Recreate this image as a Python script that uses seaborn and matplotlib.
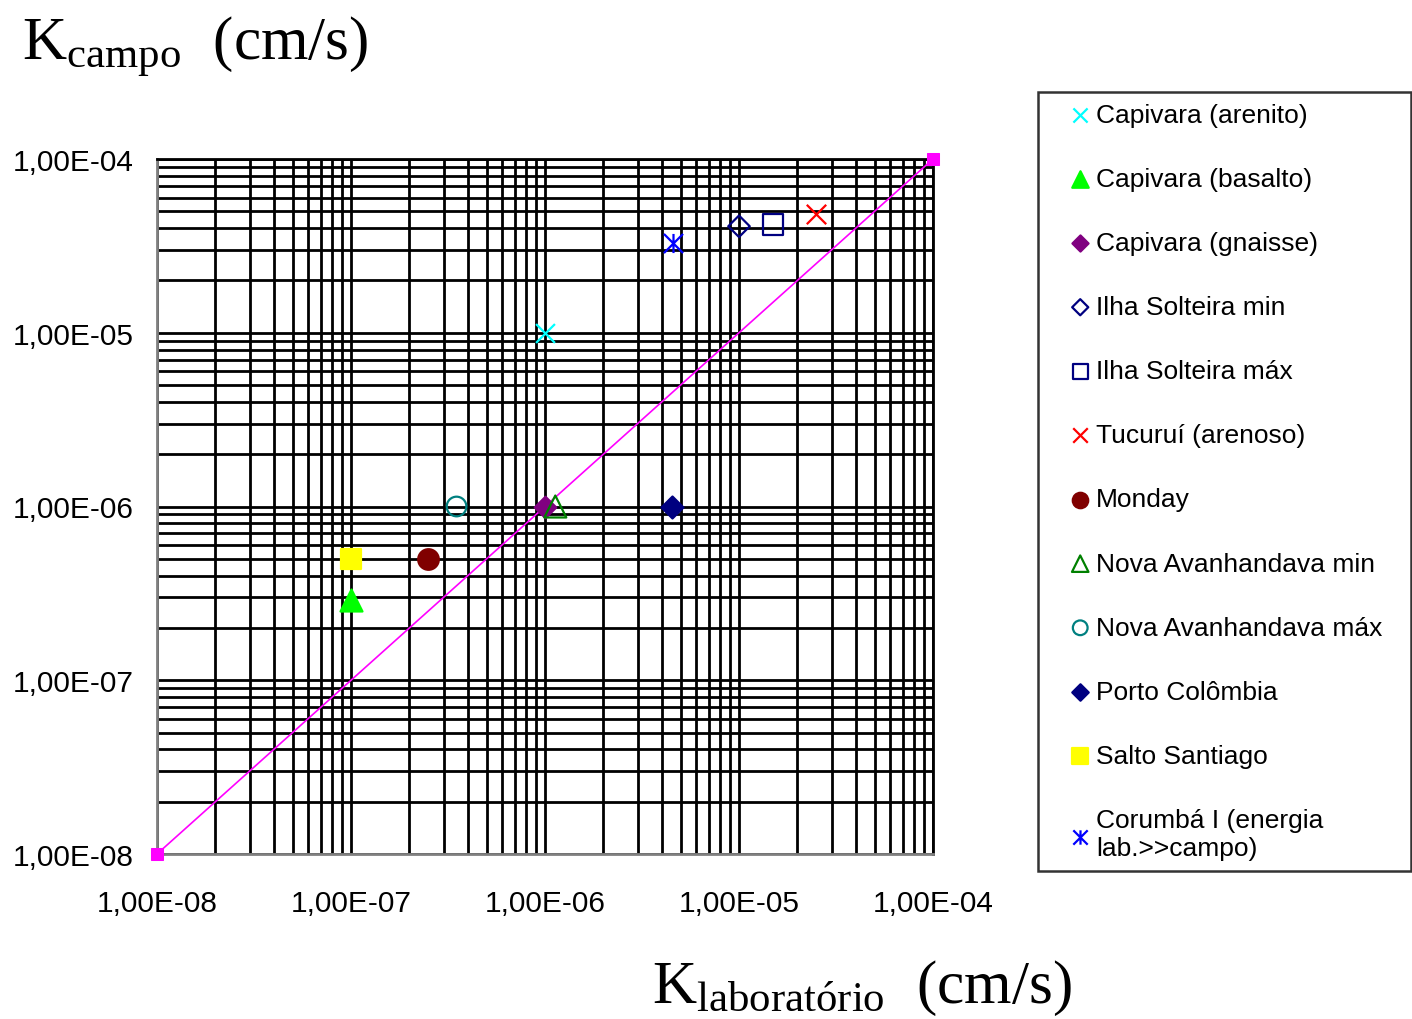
import matplotlib
matplotlib.use("Agg")
import matplotlib.pyplot as plt
from matplotlib.path import Path
from matplotlib.ticker import LogLocator, FuncFormatter, NullFormatter
import seaborn as sns

# Ensaios: K de laboratório x K de campo (cm/s)
obras = ["Capivara (arenito)", "Capivara (basalto)", "Capivara (gnaisse)",
         "Ilha Solteira min", "Ilha Solteira máx", "Tucuruí (arenoso)",
         "Monday", "Nova Avanhandava min", "Nova Avanhandava máx",
         "Porto Colômbia", "Salto Santiago", "Corumbá I (energia\nlab.>>campo)"]
k_lab = [1.0e-6, 1.0e-7, 1.0e-6, 1.0e-5, 1.5e-5, 2.5e-5,
         2.5e-7, 1.13e-6, 3.5e-7, 4.5e-6, 1.0e-7, 4.55e-6]
k_campo = [1.0e-5, 2.9e-7, 1.0e-6, 4.1e-5, 4.2e-5, 4.8e-5,
           5.0e-7, 1.0e-6, 1.0e-6, 1.0e-6, 5.0e-7, 3.3e-5]

# linha 1:1
linha_x = [1e-8, 1e-4]
linha_y = [1e-8, 1e-4]
ticks = [1e-8, 1e-7, 1e-6, 1e-5, 1e-4]

# asterisco estilo Excel (X com traço vertical)
asterisco = Path([(-0.5, -0.5), (0.5, 0.5), (-0.5, 0.5), (0.5, -0.5), (0, -0.5), (0, 0.5)],
                 [Path.MOVETO, Path.LINETO, Path.MOVETO, Path.LINETO, Path.MOVETO, Path.LINETO])

# (marcador, cor, cheio, tamanho)
estilos = [
    ("x", "#00FFFF", True, 185),
    ("^", "#00FF00", True, 250),
    ("D", "#800080", True, 120),
    ("D", "#000080", False, 120),
    ("s", "#000080", False, 215),
    ("x", "#FF0000", True, 195),
    ("o", "#800000", True, 220),
    ("^", "#008000", False, 250),
    ("o", "#008080", False, 200),
    ("D", "#000080", True, 125),
    ("s", "#FFFF00", True, 215),
    (asterisco, "#0000FF", True, 190),
]

sns.set_style("white")
plt.rcParams["font.family"] = ["Liberation Sans", "DejaVu Sans"]
plt.rcParams["text.color"] = "black"
plt.rcParams["xtick.color"] = "black"
plt.rcParams["ytick.color"] = "black"
plt.rcParams["mathtext.fontset"] = "custom"
plt.rcParams["mathtext.rm"] = "Liberation Serif"
plt.rcParams["mathtext.it"] = "Liberation Serif:italic"

fig = plt.figure(figsize=(14.12, 10.20), dpi=100)
ax = fig.add_axes([157 / 1412, 1 - 855 / 1020, (933 - 157) / 1412, (855 - 160) / 1020])

ax.set_xscale("log")
ax.set_yscale("log")
ax.set_xlim(1e-8, 1e-4)
ax.set_ylim(1e-8, 1e-4)

# linha de igualdade
sns.lineplot(x=linha_x, y=linha_y, ax=ax, color="#FF00FF", linewidth=1.2,
             marker="s", markersize=8.5, markeredgecolor="#FF00FF", zorder=4, clip_on=False)

handles = []
for nome, xl, yc, (mk, cor, cheio, tam) in zip(obras, k_lab, k_campo, estilos):
    kw = dict(marker=mk, s=tam, linewidth=1.6, zorder=5, clip_on=False)
    if cheio:
        kw.update(color=cor, edgecolor=cor)
    else:
        kw.update(color=cor, facecolors="none", edgecolor=cor)
    sns.scatterplot(x=[xl], y=[yc], ax=ax, **kw)
    handles.append(ax.collections[-1])

# grade log densa
ax.xaxis.set_minor_locator(LogLocator(base=10, subs=range(2, 10), numticks=20))
ax.yaxis.set_minor_locator(LogLocator(base=10, subs=range(2, 10), numticks=20))
fmt = FuncFormatter(lambda v, p: f"{v:.2E}".replace(".", ","))
ax.set_xticks(ticks)
ax.set_yticks(ticks)
ax.xaxis.set_major_formatter(fmt)
ax.yaxis.set_major_formatter(fmt)
ax.xaxis.set_minor_formatter(NullFormatter())
ax.yaxis.set_minor_formatter(NullFormatter())
ax.grid(True, which="both", color="black", linewidth=2.0)
ax.set_axisbelow(True)
ax.tick_params(which="both", length=0, labelsize=21.5)
ax.tick_params(axis="x", pad=25)
ax.tick_params(axis="y", pad=17)
for s in ["left", "bottom"]:
    ax.spines[s].set_color("#808080")
    ax.spines[s].set_linewidth(2)
for s in ["top", "right"]:
    ax.spines[s].set_color("black")
    ax.spines[s].set_linewidth(2.0)

# títulos dos eixos
fig.text(22 / 1412, 1 - 60 / 1020, r"$\mathrm{K}_{\mathrm{campo}}$  (cm/s)",
         fontsize=44, family="Liberation Serif", ha="left", va="baseline")
fig.text(652 / 1412, 1 - 1003 / 1020, r"$\mathrm{K}_{\mathrm{laboratório}}$  (cm/s)",
         fontsize=44, family="Liberation Serif", ha="left", va="baseline")

leg = fig.legend(handles, obras, loc="upper left",
                 bbox_to_anchor=(1038 / 1412, 1 - 93 / 1020 - 0.01, 373 / 1412, 0.01), mode="expand",
                 fontsize=19, frameon=True, fancybox=False, edgecolor="black",
                 scatterpoints=1, markerscale=0.75, handlelength=2.38, handletextpad=-0.59,
                 borderpad=0.41, labelspacing=1.52, borderaxespad=0)
leg.get_frame().set_linewidth(1.8)

fig.savefig("out.png", dpi=100)
